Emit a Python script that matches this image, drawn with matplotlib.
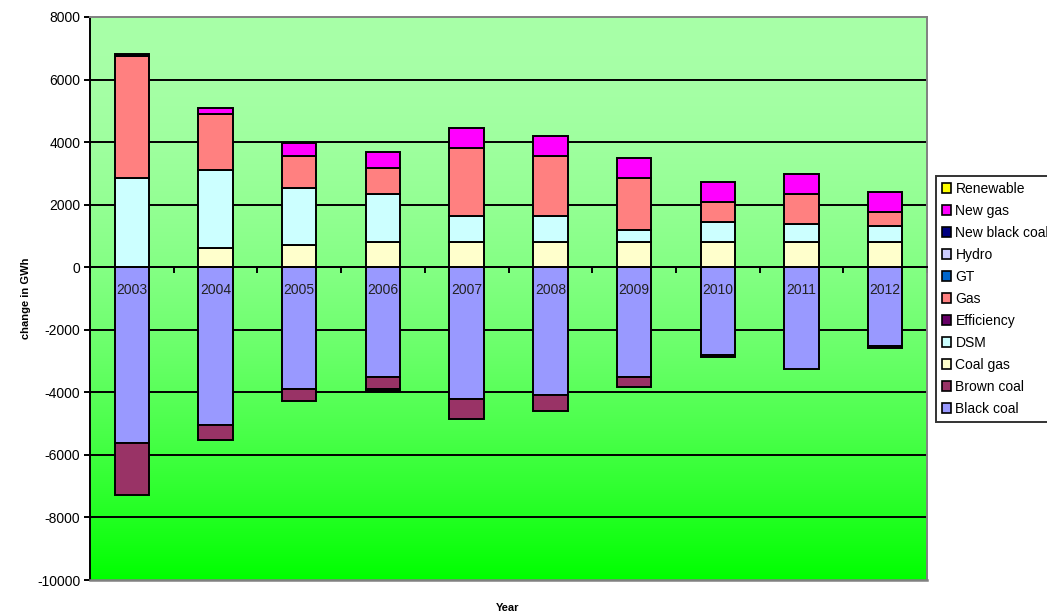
import numpy as np
import matplotlib.pyplot as plt
from matplotlib.patches import Patch

plt.rcParams['font.family'] = ['Liberation Sans', 'DejaVu Sans']
plt.rcParams['axes.unicode_minus'] = False

years = ['2003', '2004', '2005', '2006', '2007', '2008', '2009', '2010', '2011', '2012']

# change in generation by source, GWh (Excel series order)
black_coal = [-5630, -5050, -3900, -3520, -4220, -4090, -3520, -2820, -3250, -2520]
brown_coal = [-1660, -460, -390, -380, -640, -510, -320, 0, 0, 0]
coal_gas = [0, 620, 700, 820, 820, 820, 820, 810, 810, 810]
dsm = [2850, 2490, 1830, 1520, 820, 820, 380, 650, 560, 510]
efficiency = [0, 0, 0, -50, 0, 0, 0, -60, 0, -60]
gas = [3910, 1790, 1040, 820, 2160, 1920, 1660, 640, 980, 460]
gt = [0, 0, 0, 0, 0, 0, 0, 0, 0, 0]
hydro = [0, 0, 0, 0, 0, 0, 0, 0, 0, 0]
new_black_coal = [60, 0, 0, 0, 0, 0, 0, 0, 0, 0]
new_gas = [0, 190, 410, 510, 650, 650, 640, 630, 640, 630]
renewable = [0, 0, 0, 0, 0, 0, 0, 0, 0, 0]

series = [
    ('Black coal', black_coal, '#9999FF'),
    ('Brown coal', brown_coal, '#993366'),
    ('Coal gas', coal_gas, '#FFFFCC'),
    ('DSM', dsm, '#CCFFFF'),
    ('Efficiency', efficiency, '#660066'),
    ('Gas', gas, '#FF8080'),
    ('GT', gt, '#0066CC'),
    ('Hydro', hydro, '#CCCCFF'),
    ('New black coal', new_black_coal, '#000080'),
    ('New gas', new_gas, '#FF00FF'),
    ('Renewable', renewable, '#FFFF00'),
]

fig = plt.figure(figsize=(10.47, 6.16), dpi=100)
ax = fig.add_axes([90 / 1047, 36 / 616, 837 / 1047, 563 / 616])

ymin, ymax = -10000, 8000
x = np.arange(len(years))

# green gradient fill behind the bars
t = np.linspace(0, 1, 256)[:, None]
c = 168 * (1 - t ** 1.9) / 255
grad = np.dstack([c, np.ones_like(c), c])
ax.imshow(grad, extent=[-0.5, len(years) - 0.5, ymin, ymax], aspect='auto',
          zorder=0, interpolation='bilinear')

for yv in range(ymin + 2000, ymax, 2000):
    ax.axhline(yv, color='black', lw=1.4, zorder=1)

pos_base = np.zeros(len(years))
neg_base = np.zeros(len(years))
for name, vals, col in series:
    v = np.array(vals, dtype=float)
    base = np.where(v >= 0, pos_base, neg_base)
    mask = v != 0
    ax.bar(x[mask], v[mask], bottom=base[mask], width=0.41, color=col,
           edgecolor='black', linewidth=1.4, zorder=2)
    pos_base += np.where(v > 0, v, 0)
    neg_base += np.where(v < 0, v, 0)

ax.set_xlim(-0.5, len(years) - 0.5)
ax.set_ylim(ymin, ymax)
ax.set_yticks(range(ymin, ymax + 1, 2000))
ax.tick_params(axis='y', direction='out', length=4, width=1.4, labelsize=10, pad=3)

# category axis drawn along zero, year labels sit just under it
ax.spines['bottom'].set_position(('data', 0))
ax.spines['bottom'].set_zorder(3)
ax.spines['bottom'].set_linewidth(1.4)
ax.set_xticks(np.arange(len(years) + 1) - 0.5)
ax.set_xticklabels([])
ax.tick_params(axis='x', direction='out', length=4, width=1.4)
for xi, yr in zip(x, years):
    ax.text(xi, -720, yr, ha='center', va='center', fontsize=10,
            color='#222222', zorder=5)

ax.spines['left'].set_linewidth(1.4)
for s in ('top', 'right'):
    ax.spines[s].set_color('#808080')
    ax.spines[s].set_linewidth(1.4)
ax.plot([0, 1], [0, 0], transform=ax.transAxes, color='#808080', lw=1.8,
        clip_on=False, zorder=3)

ax.set_ylabel('change in GWh', fontsize=8, fontweight='bold', labelpad=4)
fig.text(508 / 1047, 1 - 608 / 616, 'Year', fontsize=8, fontweight='bold',
         ha='center', va='center')

handles = [Patch(facecolor=col, edgecolor='black', linewidth=1.2, label=name)
           for name, vals, col in series[::-1]]
leg = fig.legend(handles=handles, loc='upper left',
                 bbox_to_anchor=(936 / 1047, 1 - 176 / 616),
                 fontsize=10, frameon=True, fancybox=False, edgecolor='black',
                 handlelength=0.7, handleheight=0.7, handletextpad=0.3,
                 labelspacing=0.58, borderpad=0.4, borderaxespad=0)
leg.get_frame().set_linewidth(1.4)

fig.savefig('out.png', dpi=100)
